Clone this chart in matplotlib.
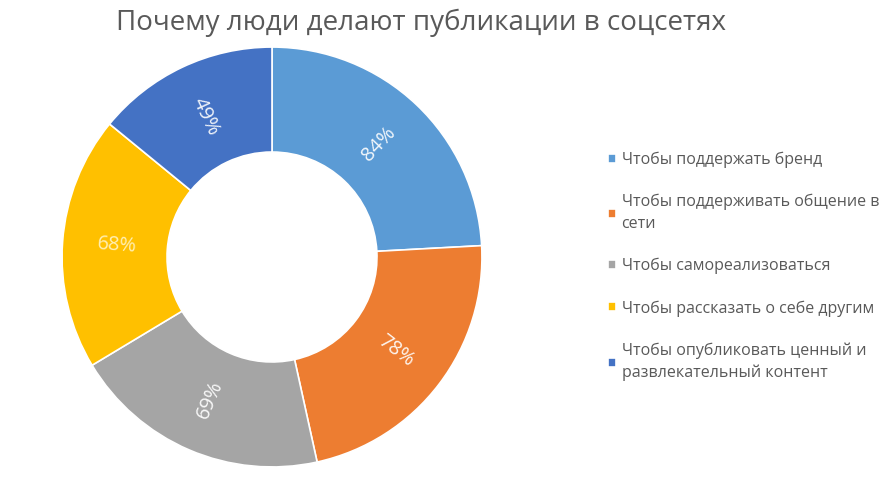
import numpy as np
import matplotlib.pyplot as plt

plt.rcParams["font.family"] = ["Open Sans", "DejaVu Sans"]

title = "Почему люди делают публикации в соцсетях"
labels = ["Чтобы поддержать бренд",
          "Чтобы поддерживать общение в\nсети",
          "Чтобы самореализоваться",
          "Чтобы рассказать о себе другим",
          "Чтобы опубликовать ценный и\nразвлекательный контент"]
values = [84, 78, 69, 68, 49]
colors = ["#5B9BD5", "#ED7D31", "#A5A5A5", "#FFC000", "#4472C4"]

fig = plt.figure(figsize=(8.9, 4.9), dpi=100)
cx, cy, r = 272, 257, 211
ax = fig.add_axes([(cx - r) / 890, (490 - cy - r) / 490, 2 * r / 890, 2 * r / 490])

wedges, _ = ax.pie(values, colors=colors, startangle=90, counterclock=False,
                   wedgeprops=dict(width=0.5, edgecolor="white", linewidth=1.2),
                   radius=1.0)
ax.set_xlim(-1.005, 1.005)
ax.set_ylim(-1.005, 1.005)
ax.set_aspect("equal")

# rotated percentage labels like Excel
for w, v in zip(wedges, values):
    mid = (w.theta1 + w.theta2) / 2
    rad = np.deg2rad(mid)
    rot = mid
    while rot > 90:
        rot -= 180
    while rot < -90:
        rot += 180
    ax.text(0.74 * np.cos(rad), 0.74 * np.sin(rad), f"{v}%", rotation=rot,
            rotation_mode="anchor", ha="center", va="center",
            color="#FFFFFF" if v != 68 else "#FFF3C4", fontsize=14.5, alpha=0.92)

fig.text(0.473, 0.953, title, ha="center", va="center", fontsize=20, color="#595959")

leg = fig.legend(wedges, labels, loc="upper left", bbox_to_anchor=(0.667, 0.72),
                 frameon=False, fontsize=11.5, labelcolor="#595959",
                 handlelength=0.5, handleheight=0.5, handletextpad=0.35,
                 labelspacing=1.63)
for t in leg.get_texts():
    t.set_linespacing(1.45)

fig.savefig("out.png", dpi=100)
